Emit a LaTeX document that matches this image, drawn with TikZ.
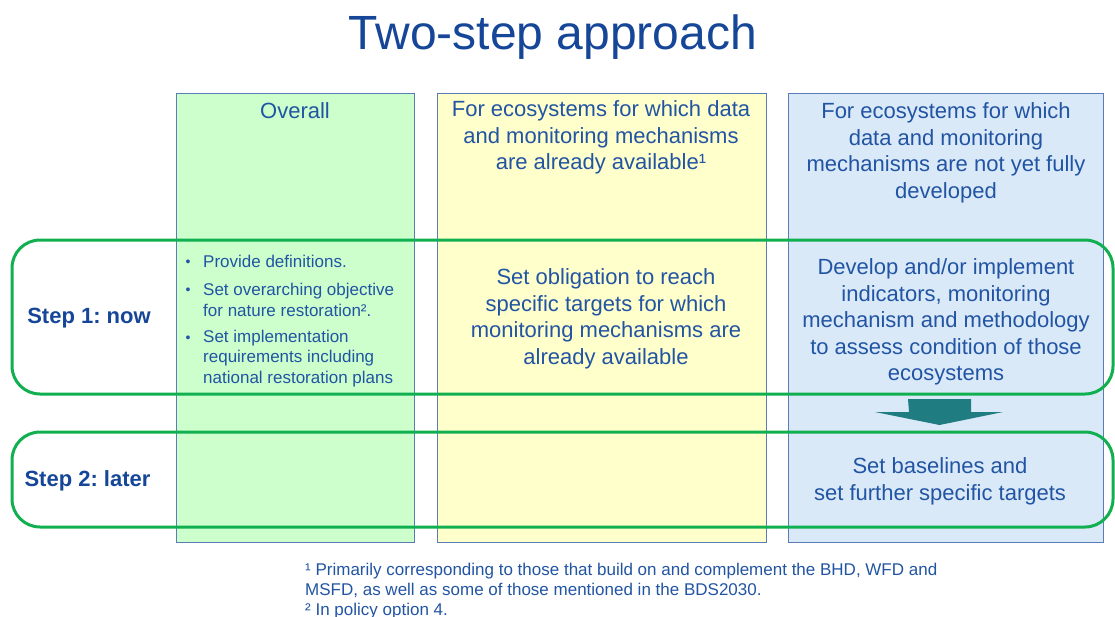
\documentclass[tikz,border=0pt]{standalone}
\usepackage{fontspec}
\setmainfont{Liberation Sans}
\usetikzlibrary{positioning}
\frenchspacing

\definecolor{textblue}{RGB}{33,84,163}
\definecolor{titleblue}{RGB}{22,70,152}
\definecolor{colborder}{RGB}{90,125,184}
\definecolor{overallfill}{RGB}{204,255,204}
\definecolor{availfill}{RGB}{255,255,204}
\definecolor{devfill}{RGB}{218,233,248}
\definecolor{stepgreen}{RGB}{16,176,80}
\definecolor{arrowteal}{RGB}{31,124,128}

\begin{document}
\begin{tikzpicture}[x=1pt, y=-1pt]
		% Styles
		\tikzstyle{column} = [rectangle, draw=colborder, line width=1.2pt,
		anchor=north west, inner sep=0pt]
		\tikzstyle{bodytext} = [text=textblue, align=center, inner sep=0pt,
		font=\fontsize{22}{26.5}\selectfont]
		\tikzstyle{steplabel} = [text=titleblue, inner sep=0pt,
		font=\fontsize{22}{26.5}\selectfont\bfseries]
		\tikzstyle{itemtext} = [text=textblue, align=left, anchor=west, inner sep=0pt,
		font=\fontsize{17}{20.5}\selectfont]
		\tikzstyle{itembullet} = [text=textblue, anchor=base, inner sep=0pt,
		font=\fontsize{14}{14}\selectfont]
		\tikzstyle{stepframe} = [draw=stepgreen, line width=3pt, rounded corners=28pt]
		
		\useasboundingbox (0,0) rectangle (1115,616);
		
		% Columns
		\node [column, fill=overallfill, minimum width=238pt, minimum height=449pt] (overall) at (176,93) {};
		\node [column, fill=availfill, minimum width=329pt, minimum height=449pt] (avail) at (437,93) {};
		\node [column, fill=devfill, minimum width=315pt, minimum height=449pt] (dev) at (788,93) {};
		
		% Title and headers
		\node [text=titleblue, inner sep=0pt, font=\fontsize{48}{54}\selectfont] (title) at (553,37.5) {Two-step approach};
		\node [bodytext] (overallhead) at (295,111) {Overall};
		\node [bodytext] (availhead) at (601,137.7) {For ecosystems for which data\\and monitoring mechanisms\\are already available¹};
		\node [bodytext] (devhead) at (946,152.9) {For ecosystems for which\\data and monitoring\\mechanisms are not yet fully\\developed};
		
		% Step 1
		\node [steplabel] (step1) at (89,318) {Step 1: now};
		\node [itembullet] (bullet1) at (188,266) {•};
		\node [itemtext] (defs) at (203,261.6) {Provide definitions.};
		\node [itembullet] (bullet2) at (188,294) {•};
		\node [itemtext] (objective) at (203,299.7) {Set overarching objective\\for nature restoration².};
		\node [itembullet] (bullet3) at (188,342) {•};
		\node [itemtext] (requirements) at (203,358.2) {Set implementation\\requirements including\\national restoration plans};
		\node [bodytext] (availstep1) at (606,318.9) {Set obligation to reach\\specific targets for which\\monitoring mechanisms are\\already available};
		\node [bodytext] (devstep1) at (946,322.2) {Develop and/or implement\\indicators, monitoring\\mechanism and methodology\\to assess condition of those\\ecosystems};
		
		% Step 2
		\node [steplabel] (step2) at (87.5,481) {Step 2: later};
		\node [bodytext] (devstep2) at (940,481.4) {Set baselines and\\set further specific targets};
		
		% Footnotes
		\node [text=textblue, align=left, anchor=west, inner sep=0pt,
		font=\fontsize{17}{20}\selectfont] (notes) at (305,591)
		{¹ Primarily corresponding to those that build on and complement the BHD, WFD and\\MSFD, as well as some of those mentioned in the BDS2030.\\² In policy option 4.};
		
		% Step frames
		\draw [stepframe] (12,240) rectangle (1113,394);
		\draw [stepframe] (12,432) rectangle (1113,527);
		
		% Arrow from step 1 to step 2
		\coordinate (arrowtop) at (939.5,399);
		\fill [arrowteal] (arrowtop) ++(-31.5,0) -- ++(63,0) -- ++(0,13) -- ++(32,0)
		-- (arrowtop |- 0,425) -- ++(-64.5,-13) -- ++(34,0) -- cycle;
\end{tikzpicture}
\end{document}
